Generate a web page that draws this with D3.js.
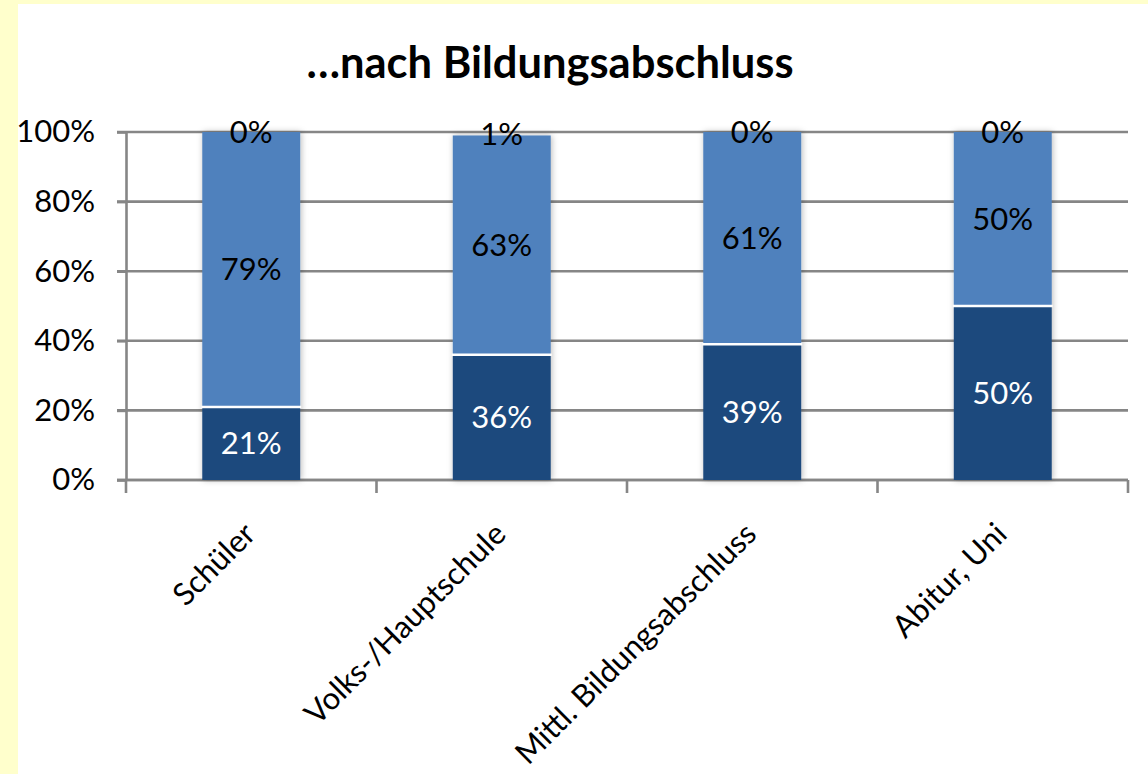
<!DOCTYPE html>
<html>
<head>
<meta charset="utf-8">
<script src="https://cdn.jsdelivr.net/npm/d3@7"></script>
<style>
  body { margin: 0; background: #ffffcc; overflow: hidden; }
  svg { display: block; }
</style>
</head>
<body>
<svg id="chart"></svg>
<script>
// Daten
var categories = ["Schüler", "Volks-/Hauptschule", "Mittl. Bildungsabschluss", "Abitur, Uni"];
var dunkel = [21, 36, 39, 50];
var hell = [79, 63, 61, 50];
var rest = [0, 1, 0, 0];
var yTicks = [0, 20, 40, 60, 80, 100];
var title = "…nach Bildungsabschluss";

var width = 1148;
var height = 774;
var margin = {top: 132, right: 20, bottom: 294, left: 126};
var grey = "#868686";

var svg = d3.select("#chart")
    .attr("width", width)
    .attr("height", height);

// weisser Hintergrund (gelber Rand links und oben)
svg.append("rect")
    .attr("x", 18).attr("y", 4)
    .attr("width", width - 18).attr("height", height - 4)
    .attr("fill", "#ffffff");

// Schatten fuer die Balken
var defs = svg.append("defs");
var filter = defs.append("filter").attr("id", "shadow")
    .attr("x", "-20%").attr("y", "-5%").attr("width", "140%").attr("height", "110%");
filter.append("feDropShadow")
    .attr("dx", 1).attr("dy", 0)
    .attr("stdDeviation", 3)
    .attr("flood-color", "#000")
    .attr("flood-opacity", 0.28);

var rows = categories.map((c, i) => ({cat: c, dunkel: dunkel[i], hell: hell[i], rest: rest[i]}));

var x = d3.scaleBand()
    .domain(categories)
    .range([margin.left, width - margin.right])
    .paddingInner(0.609)
    .paddingOuter(0.3045);

var y = d3.scaleLinear()
    .domain([0, 1])
    .range([height - margin.bottom, margin.top]);

var y0 = height - margin.bottom;

// Gitterlinien
svg.append("g")
    .selectAll("line")
    .data(yTicks)
    .join("line")
    .attr("x1", margin.left - 9)
    .attr("x2", width - margin.right)
    .attr("y1", d => y(d / 100))
    .attr("y2", d => y(d / 100))
    .attr("stroke", grey)
    .attr("stroke-width", 2.6);

// y-Achse
var yAxis = svg.append("g")
    .attr("transform", `translate(${margin.left},0)`)
    .call(d3.axisLeft(y)
        .tickValues(yTicks.map(d => d / 100))
        .tickFormat(d3.format(".0%"))
        .tickSize(9)
        .tickSizeOuter(0)
        .tickPadding(22));
yAxis.select(".domain").attr("stroke", grey).attr("stroke-width", 2.6);
yAxis.selectAll(".tick line").attr("stroke", grey).attr("stroke-width", 2.6);
yAxis.selectAll("text")
    .attr("font-family", "Lato, sans-serif")
    .attr("font-size", 31)
    .attr("fill", "#000");

// x-Achse
var step = x.step();
var bounds = d3.range(categories.length + 1).map(i => margin.left + i * step);
var xAxis = svg.append("g");
xAxis.append("line")
    .attr("x1", margin.left - 9).attr("x2", width - margin.right)
    .attr("y1", y0).attr("y2", y0)
    .attr("stroke", grey).attr("stroke-width", 2.6);
xAxis.selectAll(".xtick")
    .data(bounds)
    .join("line")
    .attr("class", "xtick")
    .attr("x1", d => d).attr("x2", d => d)
    .attr("y1", y0).attr("y2", y0 + 13)
    .attr("stroke", grey).attr("stroke-width", 2.6);

xAxis.selectAll(".xlabel")
    .data(categories)
    .join("text")
    .attr("class", "xlabel")
    .attr("transform", d => `translate(${x(d) + x.bandwidth() / 2 + 6},${y0 + 56}) rotate(-45)`)
    .attr("text-anchor", "end")
    .attr("font-family", "Lato, sans-serif")
    .attr("font-size", 31)
    .attr("fill", "#000")
    .text(d => d);

// gestapelte Balken (100%)
var keys = ["dunkel", "hell", "rest"];
var colors = {dunkel: "#1f497d", hell: "#4f81bd", rest: "none"};
var labelColors = {dunkel: "#ffffff", hell: "#000000", rest: "#000000"};

var series = d3.stack().keys(keys).offset(d3.stackOffsetExpand)(rows);

var barG = svg.append("g");
barG.append("g")
    .attr("filter", "url(#shadow)")
    .selectAll("g")
    .data(series.filter(s => s.key != "rest"))
    .join("g")
    .attr("fill", s => colors[s.key])
    .selectAll("rect")
    .data(s => s)
    .join("rect")
    .attr("x", d => x(d.data.cat))
    .attr("width", x.bandwidth())
    .attr("y", d => y(d[1]))
    .attr("height", d => y(d[0]) - y(d[1]));

// weisse Trennlinien
barG.append("g")
    .selectAll("line")
    .data(series[0])
    .join("line")
    .attr("x1", d => x(d.data.cat) - 1)
    .attr("x2", d => x(d.data.cat) + x.bandwidth() + 1)
    .attr("y1", d => y(d[1]))
    .attr("y2", d => y(d[1]))
    .attr("stroke", "#ffffff")
    .attr("stroke-width", 2.5);

// Beschriftungen
var values = {dunkel: dunkel, hell: hell, rest: rest};
svg.append("g")
    .selectAll("g")
    .data(series)
    .join("g")
    .attr("fill", s => labelColors[s.key])
    .selectAll("text")
    .data(s => s.map((d, i) => ({d: d, v: values[s.key][i]})))
    .join("text")
    .attr("x", o => x(o.d.data.cat) + x.bandwidth() / 2)
    .attr("y", o => y((o.d[0] + o.d[1]) / 2))
    .attr("dy", "0.35em")
    .attr("text-anchor", "middle")
    .attr("font-family", "Lato, sans-serif")
    .attr("font-size", 31)
    .text(o => o.v + "%");

// Titel
svg.append("text")
    .attr("x", 550)
    .attr("y", 78)
    .attr("text-anchor", "middle")
    .attr("font-family", "Lato, sans-serif")
    .attr("font-weight", "bold")
    .attr("font-size", 43.5)
    .attr("fill", "#000")
    .text(title);
</script>
</body>
</html>
